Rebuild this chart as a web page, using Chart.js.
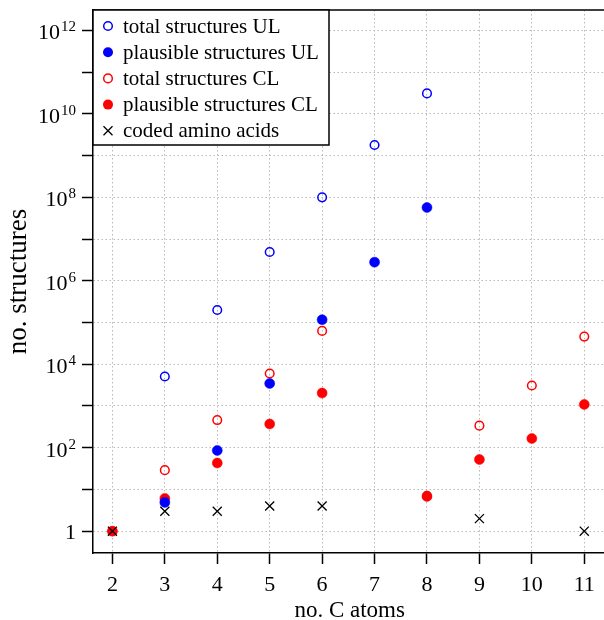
<!DOCTYPE html>
<html>
<head>
<meta charset="utf-8">
<script src="https://cdn.jsdelivr.net/npm/chart.js@4/dist/chart.umd.min.js"></script>
<style>
html,body{margin:0;padding:0;background:#fff;overflow:hidden;}
#wrap{position:relative;width:604px;height:620px;overflow:hidden;}
</style>
</head>
<body>
<div id="wrap"><canvas id="c" width="614" height="620"></canvas></div>
<script>
// ---- data ----
const carbonAtoms = [2, 3, 4, 5, 6, 7, 8, 9, 10, 11];
const totalUL = [null, 5100, 2.0e5, 4.9e6, 1.0e8, 1.8e9, 3.1e10, null, null, null];
const plausibleUL = [null, 4.9, 86, 3460, 1.17e5, 2.8e6, 5.7e7, null, null, null];
const totalCL = [1, 29, 460, 6000, 6.3e4, null, 7, 338, 3100, 4.6e4];
const plausibleCL = [1, 6.1, 43, 370, 2040, null, 6.8, 52, 166, 1090];
const codedAminoAcids = [1, 3, 3, 4, 4, null, null, 2, null, 1];
const xTickValues = [2, 3, 4, 5, 6, 7, 8, 9, 10, 11];
const yTickExponents = [0, 1, 2, 3, 4, 5, 6, 7, 8, 9, 10, 11, 12];
const seriesNames = ['total structures UL', 'plausible structures UL', 'total structures CL', 'plausible structures CL', 'coded amino acids'];

const FONT = "'Liberation Serif', 'Times New Roman', serif";
const BLUE = '#0000ff', RED = '#ff0000';

function pts(arr){ return carbonAtoms.map((x,i)=>({x:x, y:arr[i]})).filter(p=>p.y!==null); }

const markerStyles = [
  {style:'circle', fill:false, color:BLUE},
  {style:'circle', fill:true, color:BLUE},
  {style:'circle', fill:false, color:RED},
  {style:'circle', fill:true, color:RED},
  {style:'cross', fill:false, color:'#000'}
];

function drawMarker(ctx, m, x, y){
  ctx.save();
  if (m.style === 'circle') {
    ctx.beginPath();
    if (m.fill) {
      ctx.arc(x, y, 5, 0, Math.PI*2);
      ctx.fillStyle = m.color; ctx.fill();
    } else {
      ctx.arc(x, y, 4.3, 0, Math.PI*2);
      ctx.strokeStyle = m.color; ctx.lineWidth = 1.5; ctx.stroke();
    }
  } else {
    const r = 4.5;
    ctx.beginPath();
    ctx.moveTo(x-r, y-r); ctx.lineTo(x+r, y+r);
    ctx.moveTo(x-r, y+r); ctx.lineTo(x+r, y-r);
    ctx.strokeStyle = m.color; ctx.lineWidth = 1.3; ctx.stroke();
  }
  ctx.restore();
}

const customDraw = {
  id: 'customDraw',
  afterDraw(chart){
    const ctx = chart.ctx;
    const a = chart.chartArea;
    const ys = chart.scales.y;
    // top border of the plot box
    ctx.save();
    ctx.strokeStyle = '#000'; ctx.lineWidth = 1.5;
    ctx.beginPath(); ctx.moveTo(a.left, a.top); ctx.lineTo(a.right + 2, a.top); ctx.stroke();
    ctx.restore();
    // y tick labels with superscripts
    ctx.save();
    ctx.fillStyle = '#000';
    ctx.textBaseline = 'alphabetic';
    yTickExponents.forEach(e => {
      if (e % 2 !== 0) return;
      const py = ys.getPixelForValue(Math.pow(10, e));
      const right = 76;
      if (e === 0) {
        ctx.font = '22px ' + FONT; ctx.textAlign = 'right';
        ctx.fillText('1', right, py + 8);
      } else {
        const sup = String(e);
        ctx.font = '15px ' + FONT;
        const sw = ctx.measureText(sup).width;
        ctx.textAlign = 'left';
        ctx.fillText(sup, right - sw, py + 1);
        ctx.font = '22px ' + FONT;
        ctx.textAlign = 'right';
        ctx.fillText('10', right - sw - 1, py + 9);
      }
    });
    ctx.restore();
    // legend box
    const lx = a.left, ly = a.top, lw = 236, lh = 135;
    ctx.save();
    ctx.fillStyle = '#fff';
    ctx.fillRect(lx, ly, lw, lh);
    ctx.strokeStyle = '#000'; ctx.lineWidth = 1.5;
    ctx.strokeRect(lx, ly, lw, lh);
    ctx.font = '21px ' + FONT;
    ctx.fillStyle = '#000'; ctx.textAlign = 'left'; ctx.textBaseline = 'alphabetic';
    seriesNames.forEach((name, i) => {
      const cy = ly + 16 + i * 26.2;
      drawMarker(ctx, markerStyles[i], lx + 15, cy);
      ctx.fillText(name, lx + 30, cy + 6.5);
    });
    ctx.restore();
  }
};

const openCircle = (color) => ({pointStyle:'circle', pointRadius:4.3, pointHoverRadius:4.3, pointBackgroundColor:'rgba(0,0,0,0)', pointBorderColor:color, pointBorderWidth:1.5, pointHoverBorderWidth:1.5});
const fullCircle = (color) => ({pointStyle:'circle', pointRadius:5, pointHoverRadius:5, pointBackgroundColor:color, pointBorderColor:color, pointBorderWidth:0.5});

const gridOpts = {color:'#b8b8b8', lineWidth:1, drawTicks:true, tickLength:11, tickColor:'#000', tickWidth:1.5, tickBorderDash:[]};
const borderOpts = {display:true, color:'#000', width:1.5, dash:[1.5,2.5]};

new Chart(document.getElementById('c'), {
  type: 'scatter',
  data: {
    datasets: [
      Object.assign({label: seriesNames[0], data: pts(totalUL), order: 2}, openCircle(BLUE)),
      Object.assign({label: seriesNames[1], data: pts(plausibleUL), order: 1}, fullCircle(BLUE)),
      Object.assign({label: seriesNames[2], data: pts(totalCL), order: 4}, openCircle(RED)),
      Object.assign({label: seriesNames[3], data: pts(plausibleCL), order: 3}, fullCircle(RED)),
      {label: seriesNames[4], data: pts(codedAminoAcids), order: 0, pointStyle:'crossRot', pointRadius:6.4, pointHoverRadius:6.4, pointBorderColor:'#000', pointBorderWidth:1.3, pointBackgroundColor:'#000'}
    ]
  },
  options: {
    responsive: false,
    animation: false,
    events: [],
    layout: {padding: {top: 10, right: 0, left: 0, bottom: 0}},
    plugins: {legend: {display: false}, tooltip: {enabled: false}},
    scales: {
      x: {
        type: 'linear',
        min: 1.63, max: 11.42,
        afterBuildTicks(s){ s.ticks = xTickValues.map(v => ({value: v})); },
        afterFit(s){ s.height = 67; s.paddingLeft = 0; s.paddingRight = 0; },
        grid: gridOpts,
        border: borderOpts,
        ticks: {color:'#000', font:{family:FONT, size:22}, padding:8, maxRotation:0, autoSkip:false, callback: v => String(v)},
        title: {display:true, text:'no. C atoms', color:'#000', font:{family:FONT, size:23, lineHeight:1}, padding:{top:0, bottom:-2.5}}
      },
      y: {
        type: 'logarithmic',
        min: Math.pow(10, -0.47), max: Math.pow(10, 12.49),
        afterBuildTicks(s){ s.ticks = yTickExponents.map(e => ({value: Math.pow(10, e)})); },
        afterFit(s){ s.width = 93; s.paddingTop = 0; s.paddingBottom = 0; },
        grid: gridOpts,
        border: borderOpts,
        ticks: {color:'#000', font:{family:FONT, size:22}, padding:6, autoSkip:false, callback: () => ''},
        title: {display:true, text:'no. structures', color:'#000', font:{family:FONT, size:27}, padding:{top:3.2, bottom:0}}
      }
    }
  },
  plugins: [customDraw]
});
</script>
</body>
</html>
